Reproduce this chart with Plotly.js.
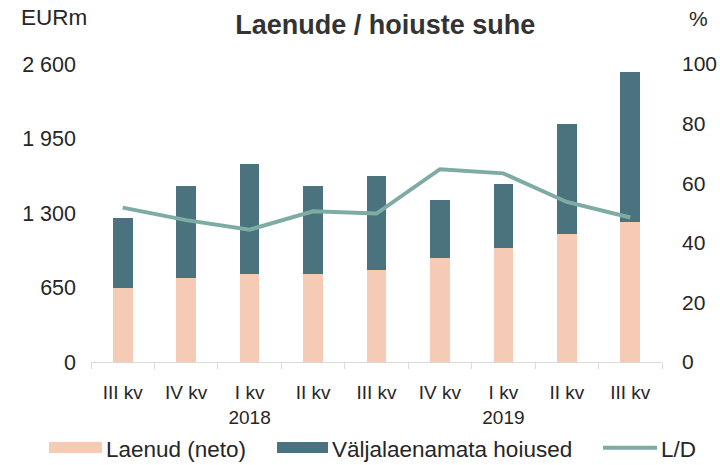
<!DOCTYPE html>
<html>
<head>
<meta charset="utf-8">
<script src="https://cdn.plot.ly/plotly-3.0.1.min.js"></script>
<style>html,body{margin:0;padding:0;background:#fff;}#chart{width:720px;height:465px;}</style>
</head>
<body>
<div id="chart"></div>
<script>
// Data (EURm and %)
var categories = ["III kv", "IV kv", "I kv<br>2018", "II kv", "III kv", "IV kv", "I kv<br>2019", "II kv", "III kv"];
var laenud = [650, 733, 767, 767, 802, 907, 995, 1120, 1222];
var valjalaenamata = [607, 804, 962, 770, 822, 507, 559, 959, 1311];
var ld = [51.8, 47.6, 44.4, 50.6, 49.8, 64.7, 63.3, 53.7, 48.5];
var leftTickVals = [0, 650, 1300, 1950, 2600];
var leftTickText = ["0", "650", "1 300", "1 950", "2 600"];
var rightTickVals = [0, 20, 40, 60, 80, 100];

var xs = categories.map(function (c, i) { return i; });
var FONT = "Liberation Sans, Arial, Helvetica, sans-serif";
var TXT = "#262626";
var PINK = "#f5cbb5", DARK = "#4a737f", LINE = "#7eaca4";

var traces = [
  {type: "bar", name: "Laenud (neto)", x: xs, y: laenud, marker: {color: PINK}, yaxis: "y", hoverinfo: "y"},
  {type: "bar", name: "Väljalaenamata hoiused", x: xs, y: valjalaenamata, marker: {color: DARK}, yaxis: "y", hoverinfo: "y"},
  {type: "scatter", mode: "lines", name: "L/D", x: xs, y: ld, yaxis: "y2", line: {color: LINE, width: 4}, hoverinfo: "y"}
];

// plot area in px: left 91, right 662, top 64, bottom 362
function px(x) { return (x - 91) / 571; }
function py(y) { return (362 - y) / 298; }

var layout = {
  width: 720, height: 465,
  margin: {l: 91, r: 58, t: 64, b: 103},
  paper_bgcolor: "#fff", plot_bgcolor: "#fff",
  barmode: "stack", bargap: 0.69,
  showlegend: false,
  font: {family: FONT, color: TXT, size: 20},
  title: {text: "Laenude / hoiuste suhe", font: {family: FONT, size: 27, color: "#333", weight: "bold"},
          x: 0.535, xanchor: "center", y: 1 - 25 / 465, yanchor: "middle", xref: "container", yref: "container"},
  xaxis: {
    range: [-0.5, 8.5], tickmode: "array", tickvals: xs, ticktext: categories,
    ticks: "", showgrid: false, zeroline: false, showline: true, linecolor: "#d9d9d9", linewidth: 1,
    tickfont: {size: 19, color: TXT}, ticklabelstandoff: 13,
    minor: {tick0: -0.5, dtick: 1, ticks: "outside", ticklen: 6, tickcolor: "#d9d9d9", tickwidth: 1, showgrid: false},
    fixedrange: true
  },
  yaxis: {
    range: [0, 2600], tickmode: "array", tickvals: leftTickVals, ticktext: leftTickText,
    showgrid: false, zeroline: false, showline: false, ticks: "", tickfont: {size: 21.5, color: TXT},
    ticklabelstandoff: 14, fixedrange: true
  },
  yaxis2: {
    range: [0, 100], overlaying: "y", side: "right", tickmode: "array", tickvals: rightTickVals,
    showgrid: false, zeroline: false, showline: false, ticks: "", tickfont: {size: 21, color: TXT},
    ticklabelstandoff: 19, fixedrange: true
  },
  shapes: [
    {type: "rect", xref: "paper", yref: "paper", x0: px(49), x1: px(102), y0: py(453), y1: py(442), fillcolor: PINK, line: {width: 0}},
    {type: "rect", xref: "paper", yref: "paper", x0: px(277), x1: px(328), y0: py(453), y1: py(442), fillcolor: DARK, line: {width: 0}},
    {type: "line", xref: "paper", yref: "paper", x0: px(603), x1: px(657), y0: py(447.7), y1: py(447.7), line: {color: LINE, width: 4}}
  ],
  annotations: [
    {text: "EURm", xref: "paper", yref: "paper", x: px(19), y: py(17), xanchor: "left", yanchor: "middle", showarrow: false, font: {size: 22.5, color: TXT}},
    {text: "%", xref: "paper", yref: "paper", x: px(687), y: py(19), xanchor: "left", yanchor: "middle", showarrow: false, font: {size: 21, color: TXT}},
    {text: "Laenud (neto)", xref: "paper", yref: "paper", x: px(104), y: py(449), xanchor: "left", yanchor: "middle", showarrow: false, font: {size: 22.5, color: TXT}},
    {text: "Väljalaenamata hoiused", xref: "paper", yref: "paper", x: px(330), y: py(449), xanchor: "left", yanchor: "middle", showarrow: false, font: {size: 22.5, color: TXT}},
    {text: "L/D", xref: "paper", yref: "paper", x: px(659), y: py(449), xanchor: "left", yanchor: "middle", showarrow: false, font: {size: 22.5, color: TXT}}
  ]
};

Plotly.newPlot("chart", traces, layout, {displayModeBar: false, staticPlot: true});
</script>
</body>
</html>
